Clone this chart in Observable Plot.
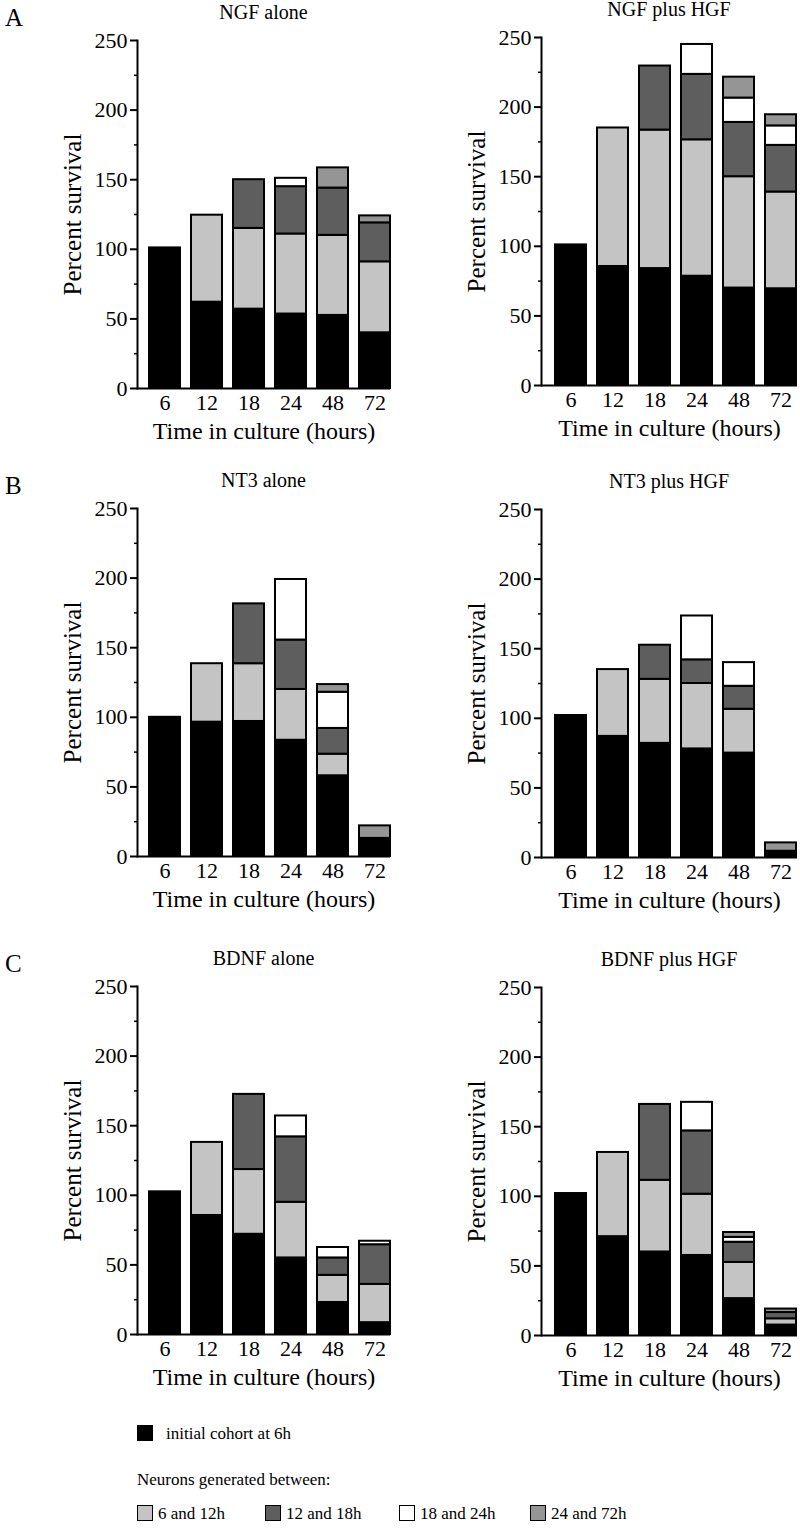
<!DOCTYPE html>
<html>
<head>
<meta charset="utf-8">
<script src="https://cdn.jsdelivr.net/npm/d3@7"></script>
<script src="https://cdn.jsdelivr.net/npm/@observablehq/plot@0.6"></script>
<style>
  html, body { margin: 0; padding: 0; background: #fff; overflow: hidden; }
  #root { position: relative; width: 800px; height: 1529px; background: #fff;
          font-family: "Liberation Serif", "Times New Roman", serif; color: #000; }
  .abs { position: absolute; white-space: nowrap; font-family: "Liberation Serif", "Times New Roman", serif; }
  .title { font-size: 20px; transform: translate(-50%, -50%); }
  .letter { font-size: 25px; transform: translate(0, -50%); }
  .leg { font-size: 17px; transform: translate(0, -50%); }
  .sw { position: absolute; width: 16px; height: 16px; box-sizing: border-box; }
  svg { position: absolute; }
  svg text { font-family: "Liberation Serif", "Times New Roman", serif; }
</style>
</head>
<body>
<div id="root"></div>
<script>
// ---- data ----
const times = ["6", "12", "18", "24", "48", "72"];
const cohorts = ["initial cohort at 6h", "6 and 12h", "12 and 18h", "18 and 24h", "24 and 72h"];
const yTicks = [0, 50, 100, 150, 200, 250];
const yMinorTicks = [25, 75, 125, 175, 225];

// rows follow cohorts, columns follow times (segment heights, percent survival)
const ngfAlone = [
  [101, 62, 57, 53.5, 52.5, 40],
  [0, 62.5, 58, 57.5, 57.5, 51],
  [0, 0, 35, 34, 34, 28],
  [0, 0, 0, 6, 0, 0],
  [0, 0, 0, 0, 14.5, 5]
];
const ngfPlusHgf = [
  [101, 85.5, 84, 78.5, 70, 69.5],
  [0, 99.5, 99.5, 98, 80, 69.5],
  [0, 0, 46, 47, 39, 33.5],
  [0, 0, 0, 21.5, 17.5, 14],
  [0, 0, 0, 0, 15, 8]
];
const nt3Alone = [
  [100, 96.5, 97, 83.5, 58, 13],
  [0, 42, 41.5, 36.5, 15.5, 0],
  [0, 0, 43, 35.5, 18.5, 0],
  [0, 0, 0, 43.5, 26, 0],
  [0, 0, 0, 0, 5.5, 9]
];
const nt3PlusHgf = [
  [102, 87, 82, 78, 75, 4.5],
  [0, 48, 46, 47, 31.5, 0],
  [0, 0, 24.5, 17, 16.5, 0],
  [0, 0, 0, 31.5, 17, 0],
  [0, 0, 0, 0, 0, 6]
];
const bdnfAlone = [
  [102.5, 85.5, 72, 55, 23, 8.5],
  [0, 52.5, 46.5, 40, 19.5, 27.5],
  [0, 0, 54, 47, 12.5, 28.5],
  [0, 0, 0, 15, 7.5, 2.5],
  [0, 0, 0, 0, 0, 0]
];
const bdnfPlusHgf = [
  [102, 71, 60, 57.5, 26.5, 7.5],
  [0, 60.5, 51.5, 44, 26, 4.5],
  [0, 0, 54.5, 45.5, 14.5, 4.5],
  [0, 0, 0, 20.5, 3.5, 0],
  [0, 0, 0, 0, 3.5, 2.5]
];

const panelTitles = ["NGF alone", "NGF plus HGF", "NT3 alone", "NT3 plus HGF", "BDNF alone", "BDNF plus HGF"];
const panelData = [ngfAlone, ngfPlusHgf, nt3Alone, nt3PlusHgf, bdnfAlone, bdnfPlusHgf];
const rowLetters = ["A", "B", "C"];
const yLabel = "Percent survival";
const xLabel = "Time in culture (hours)";
const legendHeading = "Neurons generated between:";

// ---- styling ----
const fills = ["#000000", "#c4c4c4", "#5e5e5e", "#ffffff", "#959595"];
const FONT = `"Liberation Serif", "Times New Roman", serif`;
const layout = [
  {left: 0,   top: 30,  width: 400, mr: 10},
  {left: 404, top: 27,  width: 396, mr: 3},
  {left: 0,   top: 498, width: 400, mr: 10},
  {left: 404, top: 499, width: 396, mr: 3},
  {left: 0,   top: 976, width: 400, mr: 10},
  {left: 404, top: 977, width: 396, mr: 3}
];
const ML = 137, MT = 10, MB = 70, PH = 348;

const root = document.getElementById("root");

function toRows(matrix) {
  const rows = [];
  matrix.forEach((vals, ci) => vals.forEach((v, ti) => {
    if (v > 0) rows.push({time: times[ti], cohort: cohorts[ci], value: v});
  }));
  return rows;
}

panelData.forEach((matrix, i) => {
  const L = layout[i];
  const chart = Plot.plot({
    width: L.width,
    height: MT + PH + MB,
    marginLeft: ML,
    marginRight: L.mr,
    marginTop: MT,
    marginBottom: MB,
    style: {fontFamily: FONT, fontSize: "22px", background: "transparent", overflow: "visible"},
    x: {type: "band", domain: times, range: [ML + 12, L.width - L.mr], paddingInner: 0.262, paddingOuter: 0},
    y: {domain: [0, 250]},
    color: {domain: cohorts, range: fills},
    marks: [
      Plot.barY(toRows(matrix), {x: "time", y: "value", fill: "cohort", stroke: "black", strokeWidth: 2, order: null}),
      Plot.ruleY([0], {strokeWidth: 2}),
      Plot.frame({anchor: "left", strokeWidth: 2}),
      Plot.axisY(yMinorTicks, {tickSize: 3, strokeWidth: 1.5, tickFormat: () => "", label: null}),
      Plot.axisY(yTicks, {tickSize: 7, tickPadding: 3, strokeWidth: 2, label: null}),
      Plot.axisX({tickSize: 0, tickPadding: 6, label: null}),
      Plot.text([yLabel], {frameAnchor: "left", rotate: -90, dx: -65, fontSize: 25, lineAnchor: "middle", textAnchor: "middle"}),
      Plot.text([xLabel], {frameAnchor: "bottom", dy: 43, fontSize: 24, lineAnchor: "middle", textAnchor: "middle"})
    ]
  });
  chart.style.left = L.left + "px";
  chart.style.top = L.top + "px";
  root.appendChild(chart);

  const t = document.createElement("div");
  t.className = "abs title";
  t.textContent = panelTitles[i];
  const frameCenter = L.left + ML + (L.width - L.mr - ML) / 2;
  t.style.left = frameCenter + "px";
  t.style.top = (L.top + MT - 28) + "px";
  root.appendChild(t);
});

rowLetters.forEach((letter, r) => {
  const d = document.createElement("div");
  d.className = "abs letter";
  d.textContent = letter;
  d.style.left = "5px";
  d.style.top = (layout[r * 2].top - 12) + "px";
  root.appendChild(d);
});

// ---- legend ----
function swatch(x, y, color) {
  const s = document.createElement("div");
  s.className = "sw";
  s.style.left = x + "px";
  s.style.top = y + "px";
  s.style.background = color;
  s.style.border = "1.5px solid #000";
  root.appendChild(s);
}
function legText(x, y, txt) {
  const d = document.createElement("div");
  d.className = "abs leg";
  d.style.left = x + "px";
  d.style.top = y + "px";
  d.textContent = txt;
  root.appendChild(d);
}
swatch(137, 1425, fills[0]);
legText(166, 1434, cohorts[0]);
legText(137, 1480, legendHeading);
const legX = [137, 265, 399, 530];
cohorts.slice(1).forEach((c, k) => {
  swatch(legX[k], 1505, fills[k + 1]);
  legText(legX[k] + 21, 1514, c);
});
</script>
</body>
</html>
